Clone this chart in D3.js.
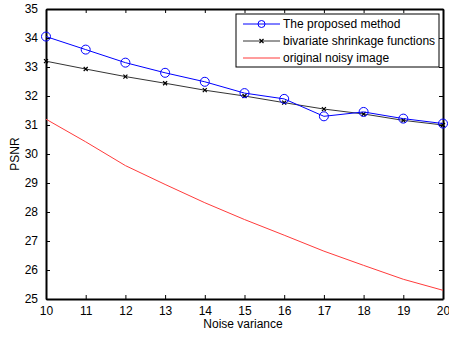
<!DOCTYPE html>
<html>
<head>
<meta charset="utf-8">
<script src="https://cdn.jsdelivr.net/npm/d3@7"></script>
<style>
  body { margin: 0; background: #fff; }
  text { font-family: "Liberation Sans", Arial, sans-serif; }
</style>
</head>
<body>
<script>
const w = 449, h = 338;
const margin = { top: 9, right: 6, bottom: 39, left: 46 };

const noiseVariance = [10, 11, 12, 13, 14, 15, 16, 17, 18, 19, 20];
const proposed = [34.05, 33.6, 33.15, 32.8, 32.49, 32.1, 31.9, 31.3, 31.45, 31.22, 31.05];
const bivariate = [33.2, 32.93, 32.67, 32.44, 32.2, 32.0, 31.77, 31.55, 31.38, 31.16, 31.0];
const noisy = [31.2, 30.42, 29.6, 28.95, 28.32, 27.74, 27.2, 26.65, 26.16, 25.68, 25.3];
const yTicks = [25, 26, 27, 28, 29, 30, 31, 32, 33, 34, 35];
const legendLabels = ['The proposed method', 'bivariate shrinkage functions', 'original noisy image'];

const x = d3.scaleLinear().domain([10, 20]).range([margin.left, w - margin.right]);
const y = d3.scaleLinear().domain([25, 35]).range([h - margin.bottom, margin.top]);

const svg = d3.select('body').append('svg')
  .attr('width', w)
  .attr('height', h);

// axes, MATLAB style: inward ticks on all four sides
const fmt = d3.format('d');
svg.append('g')
  .attr('transform', `translate(0, ${h - margin.bottom})`)
  .call(d3.axisBottom(x).tickValues(noiseVariance).tickFormat(fmt).tickSizeInner(-4).tickSizeOuter(0).tickPadding(7));
svg.append('g')
  .attr('transform', `translate(0, ${margin.top})`)
  .call(d3.axisTop(x).tickValues(noiseVariance).tickFormat('').tickSizeInner(-4).tickSizeOuter(0));
svg.append('g')
  .attr('transform', `translate(${margin.left}, 0)`)
  .call(d3.axisLeft(y).tickValues(yTicks).tickFormat(fmt).tickSizeInner(-4).tickSizeOuter(0).tickPadding(8));
svg.append('g')
  .attr('transform', `translate(${w - margin.right}, 0)`)
  .call(d3.axisRight(y).tickValues(yTicks).tickFormat('').tickSizeInner(-4).tickSizeOuter(0));

svg.selectAll('.domain').attr('stroke', '#000').attr('stroke-width', 2);
svg.selectAll('.tick line').attr('stroke', '#000');
svg.selectAll('.tick text').attr('font-size', 12).attr('fill', '#000')
  .attr('font-family', '"Liberation Sans", Arial, sans-serif');

// axis labels
svg.append('text')
  .attr('x', 243)
  .attr('y', 328)
  .attr('text-anchor', 'middle')
  .attr('font-size', 12)
  .text('Noise variance');
svg.append('text')
  .attr('transform', `translate(19, ${(margin.top + h - margin.bottom) / 2}) rotate(-90)`)
  .attr('text-anchor', 'middle')
  .attr('font-size', 12)
  .text('PSNR');

const line = d3.line()
  .x((d, i) => x(noiseVariance[i]))
  .y(d => y(d));

svg.append('path').datum(noisy)
  .attr('fill', 'none').attr('stroke', '#ff3b3b').attr('stroke-width', 1)
  .attr('d', line);

svg.append('path').datum(bivariate)
  .attr('fill', 'none').attr('stroke', '#000').attr('stroke-width', 0.8)
  .attr('d', line);
svg.append('g').selectAll('path')
  .data(bivariate)
  .enter()
  .append('path')
  .attr('transform', (d, i) => `translate(${x(noiseVariance[i])}, ${y(d)})`)
  .attr('d', 'M-2,-2L2,2M-2,2L2,-2')
  .attr('stroke', '#000').attr('stroke-width', 1.2);

svg.append('path').datum(proposed)
  .attr('fill', 'none').attr('stroke', '#0000ff').attr('stroke-width', 1)
  .attr('d', line);
svg.append('g').selectAll('circle')
  .data(proposed)
  .enter()
  .append('circle')
  .attr('cx', (d, i) => x(noiseVariance[i]))
  .attr('cy', d => y(d))
  .attr('r', 4.5)
  .attr('fill', 'none')
  .attr('stroke', '#0000ff')
  .attr('stroke-width', 1);

// legend
const lg = svg.append('g').attr('transform', 'translate(236, 14)');
lg.append('rect')
  .attr('width', 203).attr('height', 53)
  .attr('fill', '#fff').attr('stroke', '#000').attr('stroke-width', 1);
const legendColors = ['#0000ff', '#000', '#ff3b3b'];
legendLabels.forEach((label, i) => {
  const ly = 10 + i * 17;
  lg.append('line')
    .attr('x1', 7).attr('x2', 44).attr('y1', ly).attr('y2', ly)
    .attr('stroke', legendColors[i]).attr('stroke-width', i === 1 ? 0.8 : 1);
  if (i === 0) {
    lg.append('circle').attr('cx', 25.5).attr('cy', ly).attr('r', 3.5)
      .attr('fill', 'none').attr('stroke', '#0000ff');
  }
  if (i === 1) {
    lg.append('path').attr('transform', `translate(25.5, ${ly})`)
      .attr('d', 'M-2,-2L2,2M-2,2L2,-2').attr('stroke', '#000').attr('stroke-width', 1.2);
  }
  lg.append('text')
    .attr('x', 47).attr('y', ly + 4)
    .attr('font-size', 12)
    .text(label);
});
</script>
</body>
</html>
